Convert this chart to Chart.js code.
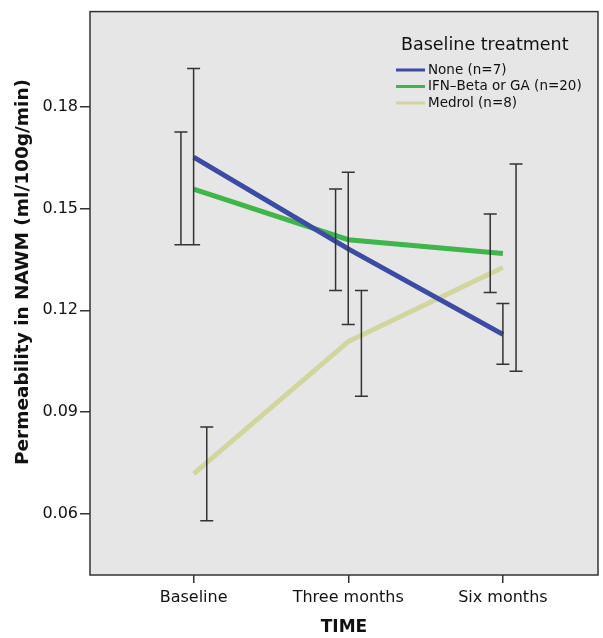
<!DOCTYPE html>
<html>
<head>
<meta charset="utf-8">
<script src="https://cdn.jsdelivr.net/npm/chart.js@4"></script>
<style>
  html, body { margin: 0; padding: 0; background: #fff; }
  #wrap { width: 603px; height: 638px; }
</style>
</head>
<body>
<div id="wrap"><canvas id="chart"></canvas></div>
<script>
const categories = ["Baseline", "Three months", "Six months"];
const yTicks = [0.06, 0.09, 0.12, 0.15, 0.18];

const noneMean = [0.1651, 0.1381, 0.1129];
const noneLow = [0.1393, 0.1158, 0.1041];
const noneHigh = [0.1912, 0.1607, 0.1220];

const ifnMean = [0.1557, 0.1408, 0.1367];
const ifnLow = [0.1393, 0.1258, 0.1252];
const ifnHigh = [0.1725, 0.1557, 0.1484];

const medrolMean = [0.0718, 0.1108, 0.1326];
const medrolLow = [0.0580, 0.0947, 0.1020];
const medrolHigh = [0.0856, 0.1258, 0.1631];

const FONT = "'DejaVu Sans', sans-serif";
const Y_TITLE = "Permeability in NAWM (ml/100g/min)";

function points(values) {
  return values.map((v, i) => ({ x: i, y: v }));
}

// grey panel + frame behind the lines
const panel = {
  id: "panel",
  beforeDatasetsDraw(chart) {
    const { ctx, chartArea: a } = chart;
    ctx.save();
    ctx.fillStyle = "#e6e6e6";
    ctx.fillRect(a.left, a.top, a.right - a.left, a.bottom - a.top);
    ctx.restore();
  },
  afterDraw(chart) {
    const { ctx, chartArea: a } = chart;
    ctx.save();
    ctx.strokeStyle = "#333";
    ctx.lineWidth = 1.5;
    ctx.strokeRect(a.left, a.top, a.right - a.left, a.bottom - a.top);
    // y axis title, sits a bit above the middle in the original
    ctx.fillStyle = "#111";
    ctx.font = "bold 18.5px " + FONT;
    ctx.textAlign = "center";
    ctx.textBaseline = "middle";
    ctx.translate(23, 272);
    ctx.rotate(-Math.PI / 2);
    ctx.fillText(Y_TITLE, 0, 0);
    ctx.restore();
  }
};

// error bars, dodged a little per group
const errorBars = {
  id: "errorBars",
  afterDatasetsDraw(chart) {
    const { ctx, scales: { x, y } } = chart;
    ctx.save();
    ctx.strokeStyle = "#333";
    ctx.lineWidth = 1.5;
    chart.data.datasets.forEach((ds) => {
      ds.errLow.forEach((lo, i) => {
        const px = x.getPixelForValue(i + ds.errOffset);
        const y1 = y.getPixelForValue(lo);
        const y2 = y.getPixelForValue(ds.errHigh[i]);
        ctx.beginPath();
        ctx.moveTo(px, y1); ctx.lineTo(px, y2);
        ctx.moveTo(px - 6.5, y1); ctx.lineTo(px + 6.5, y1);
        ctx.moveTo(px - 6.5, y2); ctx.lineTo(px + 6.5, y2);
        ctx.stroke();
      });
    });
    ctx.restore();
  }
};

// legend inside the plot, top right
const legendBox = {
  id: "legendBox",
  afterDraw(chart) {
    const { ctx } = chart;
    ctx.save();
    ctx.fillStyle = "#111";
    ctx.textBaseline = "middle";
    ctx.font = "17.5px " + FONT;
    ctx.fillText("Baseline treatment", 401, 45);
    ctx.font = "13.5px " + FONT;
    chart.data.datasets.forEach((ds, i) => {
      const yy = 70 + i * 16.5;
      ctx.strokeStyle = ds.borderColor;
      ctx.lineWidth = 3;
      ctx.beginPath();
      ctx.moveTo(396, yy); ctx.lineTo(425, yy);
      ctx.stroke();
      ctx.fillStyle = "#111";
      ctx.fillText(ds.label, 428, yy);
    });
    ctx.restore();
  }
};

new Chart(document.getElementById("chart"), {
  type: "line",
  data: {
    datasets: [
      {
        label: "None (n=7)",
        data: points(noneMean),
        errLow: noneLow, errHigh: noneHigh, errOffset: 0,
        borderColor: "#3c4ba6",
      },
      {
        label: "IFN\u2013Beta or GA (n=20)",
        data: points(ifnMean),
        errLow: ifnLow, errHigh: ifnHigh, errOffset: -0.082,
        borderColor: "#3fb54b",
      },
      {
        label: "Medrol (n=8)",
        data: points(medrolMean),
        errLow: medrolLow, errHigh: medrolHigh, errOffset: 0.085,
        borderColor: "#d3d59f",
      },
    ],
  },
  options: {
    responsive: true,
    maintainAspectRatio: false,
    animation: false,
    elements: {
      line: { borderWidth: 5, tension: 0, borderCapStyle: "butt" },
      point: { radius: 0, hoverRadius: 0 },
    },
    layout: { padding: { top: 9, right: 5, left: 0, bottom: 0 } },
    plugins: { legend: { display: false }, tooltip: { enabled: false } },
    scales: {
      x: {
        type: "linear",
        min: -0.67,
        max: 2.615,
        afterBuildTicks(s) { s.ticks = categories.map((c, i) => ({ value: i })); },
        afterFit(s) { s.height = 63; },
        ticks: {
          callback: (v) => categories[v],
          color: "#111",
          font: { family: FONT, size: 16 },
          padding: 5,
          maxRotation: 0,
        },
        grid: { drawOnChartArea: false, drawTicks: true, tickLength: 8, color: "#333", lineWidth: 1.5 },
        border: { display: false },
        title: {
          display: true,
          text: "TIME",
          color: "#111",
          font: { family: FONT, size: 17, weight: "bold" },
          padding: { top: 0, bottom: 0 },
        },
      },
      y: {
        min: 0.042,
        max: 0.208,
        afterBuildTicks(s) { s.ticks = yTicks.map((v) => ({ value: v })); },
        afterFit(s) { s.width = 90; },
        ticks: {
          callback: (v) => v.toFixed(2),
          color: "#111",
          font: { family: FONT, size: 16 },
          padding: 2,
        },
        grid: { drawOnChartArea: false, drawTicks: true, tickLength: 10, color: "#333", lineWidth: 1.5 },
        border: { display: false },
      },
    },
  },
  plugins: [panel, errorBars, legendBox],
});
</script>
</body>
</html>
